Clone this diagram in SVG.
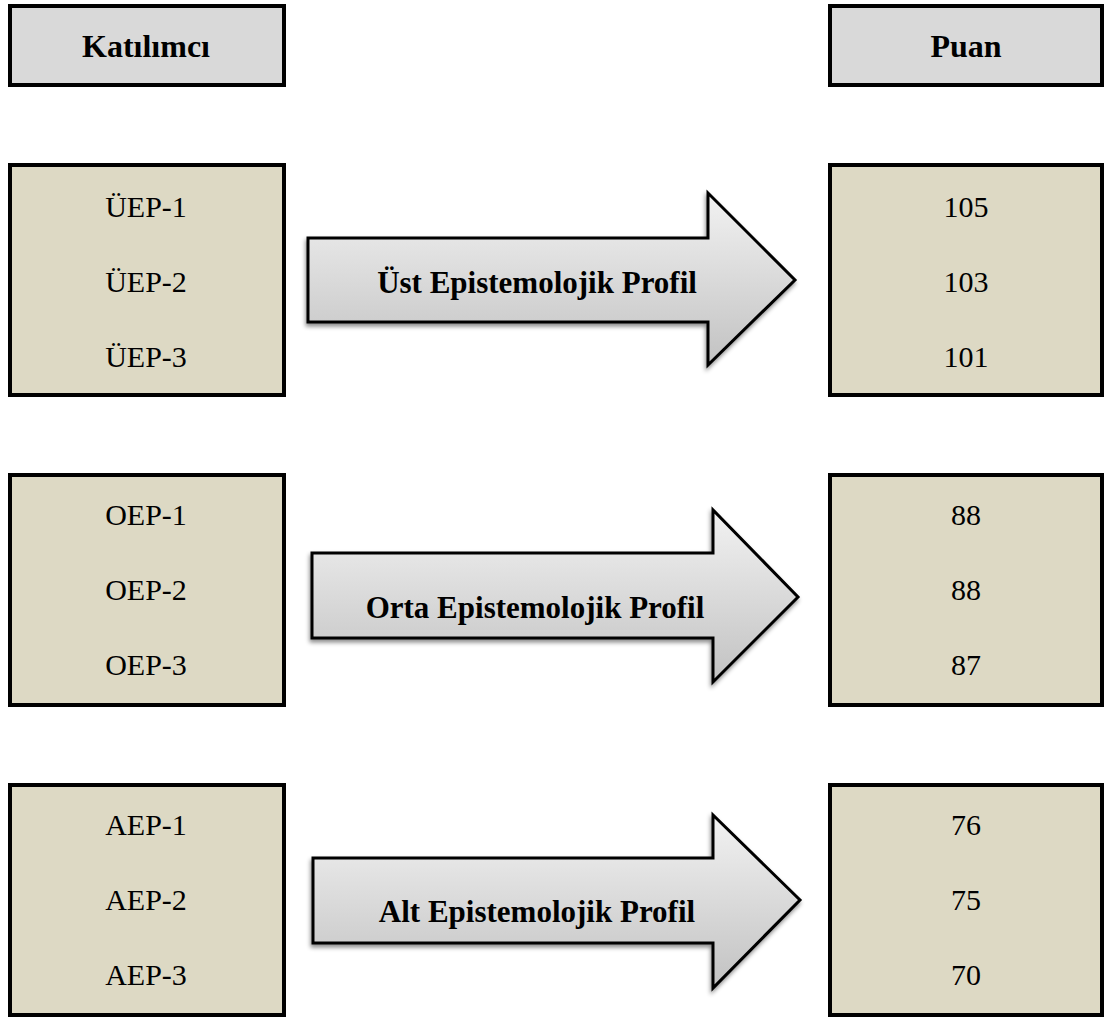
<svg xmlns="http://www.w3.org/2000/svg" width="1105" height="1021" viewBox="0 0 1105 1021">
<style>
.hdr{fill:#d9d9d9;stroke:#000;stroke-width:4}
.box{fill:#ddd9c4;stroke:#000;stroke-width:4}
.arr{fill:url(#g);stroke:#000;stroke-width:3;stroke-linejoin:miter;filter:url(#sh)}
text{font-family:"Liberation Serif","Times New Roman",serif;font-size:30px;fill:#000;text-anchor:middle}
.b{font-weight:bold;font-size:31px}
.h{font-weight:bold;font-size:32px}
</style>
<defs>
<linearGradient id="g" x1="0" y1="0" x2="0" y2="1">
<stop offset="0" stop-color="#f2f2f2"/>
<stop offset="1" stop-color="#c2c2c2"/>
</linearGradient>
<filter id="sh" x="-10%" y="-10%" width="120%" height="130%">
<feDropShadow dx="-1" dy="3" stdDeviation="2" flood-color="#000" flood-opacity="0.45"/>
</filter>
</defs>
<g id="header-katilimci"><rect class="hdr" x="10" y="6" width="274" height="79"/><text class="h" x="146" y="57">Katılımcı</text></g>
<g id="header-puan"><rect class="hdr" x="830" y="6" width="272" height="79"/><text class="h" x="966" y="57">Puan</text></g>

<g id="ust-katilimci"><rect class="box" x="10" y="165" width="274" height="230"/>
<text x="146" y="217">ÜEP-1</text><text x="146" y="292">ÜEP-2</text><text x="146" y="367">ÜEP-3</text></g>
<g id="ust-puan"><rect class="box" x="830" y="165" width="272" height="230"/>
<text x="966" y="217">105</text><text x="966" y="292">103</text><text x="966" y="367">101</text></g>

<g id="orta-katilimci"><rect class="box" x="10" y="475" width="274" height="230"/>
<text x="146" y="525">OEP-1</text><text x="146" y="600">OEP-2</text><text x="146" y="675">OEP-3</text></g>
<g id="orta-puan"><rect class="box" x="830" y="475" width="272" height="230"/>
<text x="966" y="525">88</text><text x="966" y="600">88</text><text x="966" y="675">87</text></g>

<g id="alt-katilimci"><rect class="box" x="10" y="785" width="274" height="230"/>
<text x="146" y="835">AEP-1</text><text x="146" y="910">AEP-2</text><text x="146" y="985">AEP-3</text></g>
<g id="alt-puan"><rect class="box" x="830" y="785" width="272" height="230"/>
<text x="966" y="835">76</text><text x="966" y="910">75</text><text x="966" y="985">70</text></g>

<g id="connectors">
<g id="arrow-ust"><path class="arr" d="M308,238 H708 V193 L795,280 L708,365 V322 H308 Z"/><text class="b" x="537" y="293">Üst Epistemolojik Profil</text></g>
<g id="arrow-orta"><path class="arr" d="M312,553 H713 V510 L798,597 L713,682 V638 H312 Z"/><text class="b" x="535" y="618">Orta Epistemolojik Profil</text></g>
<g id="arrow-alt"><path class="arr" d="M313,858 H713 V815 L800,900 L713,988 V943 H313 Z"/><text class="b" x="537" y="922">Alt Epistemolojik Profil</text></g>
</g>
</svg>
